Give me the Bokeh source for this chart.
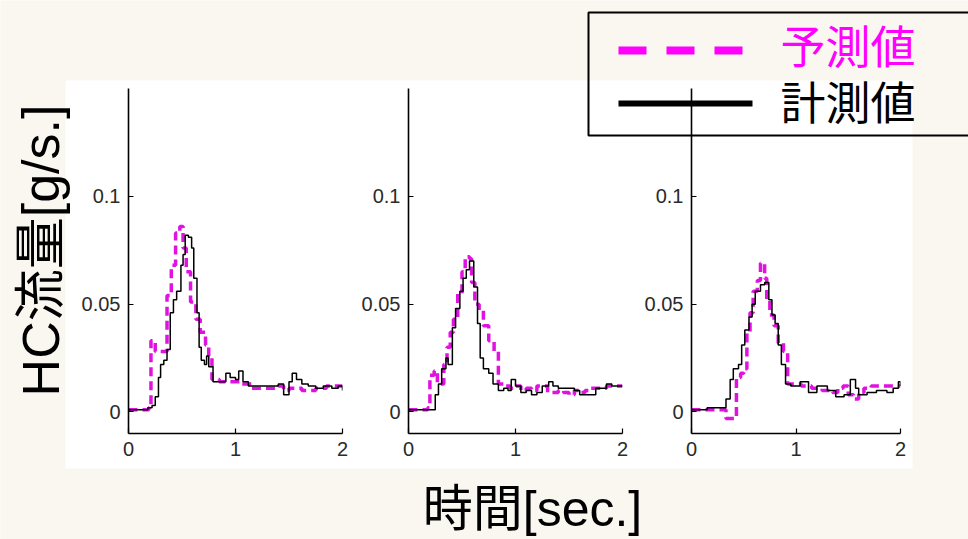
import math
from bokeh.plotting import figure
from bokeh.layouts import row, column
from bokeh.models import Range1d, FixedTicker
from bokeh.core.properties import value
from bokeh.embed import file_html
from bokeh.resources import INLINE

# ---------------- data ----------------
x_ticks = [0, 1, 2]
x_tick_labels = ["0", "1", "2"]
y_ticks = [0, 0.05, 0.1]
y_tick_labels = ["0", "0.05", "0.1"]

series_names = ["予測値", "計測値"]
y_title = "HC流量[g/s.]"
x_title = "時間[sec.]"

# panel 1
t1_meas = [0, 0.10, 0.18, 0.22, 0.25, 0.28, 0.30, 0.33, 0.36, 0.39, 0.42, 0.45, 0.49, 0.51, 0.53,
           0.56, 0.59, 0.61, 0.64, 0.66, 0.68, 0.71, 0.73, 0.75, 0.79, 0.91, 0.95, 1.00, 1.03, 1.07,
           1.12, 1.20, 1.30, 1.40, 1.45, 1.50, 1.53, 1.57, 1.62, 1.68, 1.75, 1.82, 1.90, 1.96, 2.0]
v1_meas = [0.001, 0.001, 0.002, 0.003, 0.007, 0.016, 0.022, 0.024, 0.029, 0.046, 0.052, 0.056, 0.068,
           0.073, 0.082, 0.081, 0.076, 0.062, 0.046, 0.030, 0.024, 0.022, 0.026, 0.021, 0.014, 0.018,
           0.016, 0.015, 0.019, 0.014, 0.012, 0.012, 0.012, 0.013, 0.008, 0.014, 0.018, 0.015, 0.013,
           0.012, 0.011, 0.012, 0.011, 0.012, 0.010]
t1_pred = [0, 0.19, 0.21, 0.25, 0.36, 0.40, 0.44, 0.48, 0.51, 0.54, 0.58, 0.63, 0.67, 0.72, 0.75,
           0.78, 0.85, 0.95, 1.05, 1.15, 1.30, 1.40, 1.45, 1.50, 1.62, 1.75, 1.85, 2.0]
v1_pred = [0.001, 0.002, 0.033, 0.028, 0.054, 0.068, 0.083, 0.086, 0.076, 0.065, 0.051, 0.043, 0.037,
           0.031, 0.026, 0.015, 0.014, 0.014, 0.013, 0.011, 0.011, 0.012, 0.010, 0.011, 0.010, 0.011,
           0.012, 0.012]

# panel 2
t2_meas = [0, 0.20, 0.25, 0.28, 0.31, 0.35, 0.37, 0.41, 0.44, 0.48, 0.51, 0.54, 0.57, 0.61, 0.645,
           0.67, 0.70, 0.75, 0.79, 0.84, 0.89, 0.93, 0.96, 1.00, 1.05, 1.10, 1.15, 1.20, 1.25, 1.31,
           1.35, 1.40, 1.50, 1.55, 1.60, 1.68, 1.75, 1.85, 1.90, 2.0]
v2_meas = [0.001, 0.001, 0.008, 0.013, 0.020, 0.025, 0.022, 0.039, 0.048, 0.056, 0.062, 0.066, 0.070,
           0.058, 0.041, 0.025, 0.020, 0.018, 0.013, 0.010, 0.011, 0.010, 0.015, 0.012, 0.009, 0.010,
           0.008, 0.009, 0.012, 0.014, 0.012, 0.011, 0.011, 0.010, 0.008, 0.008, 0.011, 0.013, 0.012,
           0.012]
t2_pred = [0, 0.18, 0.20, 0.24, 0.27, 0.33, 0.36, 0.39, 0.42, 0.46, 0.50, 0.53, 0.57, 0.59, 0.62,
           0.66, 0.70, 0.75, 0.80, 0.84, 0.90, 0.95, 1.00, 1.05, 1.10, 1.15, 1.20, 1.30, 1.40, 1.45,
           1.50, 1.55, 1.60, 1.65, 1.70, 1.80, 1.85, 2.0]
v2_pred = [0.001, 0.002, 0.017, 0.019, 0.013, 0.022, 0.030, 0.037, 0.043, 0.055, 0.065, 0.072, 0.071,
           0.060, 0.050, 0.047, 0.040, 0.033, 0.028, 0.013, 0.012, 0.011, 0.012, 0.010, 0.011, 0.010,
           0.012, 0.009, 0.010, 0.009, 0.008, 0.010, 0.009, 0.010, 0.011, 0.011, 0.012, 0.012]

# panel 3
t3_meas = [0, 0.15, 0.31, 0.33, 0.37, 0.40, 0.45, 0.48, 0.51, 0.55, 0.58, 0.61, 0.66, 0.70, 0.74,
           0.77, 0.80, 0.83, 0.86, 0.90, 0.95, 1.00, 1.04, 1.12, 1.20, 1.30, 1.38, 1.46, 1.52, 1.57,
           1.60, 1.68, 1.77, 1.87, 1.93, 1.98, 2.0]
v3_meas = [0.001, 0.002, 0.002, 0.006, 0.015, 0.020, 0.022, 0.031, 0.038, 0.044, 0.050, 0.056, 0.059,
           0.060, 0.052, 0.045, 0.041, 0.031, 0.022, 0.013, 0.012, 0.012, 0.014, 0.009, 0.012, 0.010,
           0.007, 0.008, 0.015, 0.011, 0.008, 0.009, 0.010, 0.009, 0.011, 0.014, 0.012]
t3_pred = [0, 0.31, 0.33, 0.43, 0.47, 0.50, 0.53, 0.56, 0.59, 0.63, 0.66, 0.70, 0.72, 0.75, 0.79,
           0.83, 0.88, 0.92, 1.00, 1.05, 1.15, 1.25, 1.35, 1.40, 1.45, 1.50, 1.55, 1.60, 1.65, 1.72,
           1.80, 1.90, 2.0]
v3_pred = [0.001, 0.001, -0.003, 0.016, 0.018, 0.020, 0.037, 0.046, 0.056, 0.061, 0.069, 0.062, 0.052,
           0.045, 0.040, 0.032, 0.028, 0.013, 0.013, 0.012, 0.011, 0.010, 0.009, 0.011, 0.012, 0.008,
           0.006, 0.009, 0.011, 0.012, 0.012, 0.012, 0.012]

# ---------------- styles ----------------
BG = "#faf6f0"
MAG = "#ff00ff"
MAG_LINE = "#e012e0"
TICK_FONT = "Liberation Sans"
TITLE_FONT = "Liberation Sans, Noto Sans CJK JP"
CJK_FONT = "Noto Sans CJK JP"
W, H = 968, 539

# ---------------- base canvas (background, titles, legend) ----------------
base = figure(width=W, height=H, x_range=Range1d(0, W), y_range=Range1d(H, 0),
              output_backend="svg", toolbar_location=None, min_border=0,
              x_axis_location=None, y_axis_location=None,
              background_fill_color=BG, border_fill_color=BG, outline_line_color=None)
base.grid.visible = False

# white figure area
base.quad(left=[65], right=[912], top=[80], bottom=[468], fill_color="white", line_color=None)

# axis titles
base.text(x=[40], y=[250], text=[y_title], angle=math.pi / 2, text_align="center",
          text_baseline="middle", text_font=value(TITLE_FONT), text_font_size="52px",
          text_color="black")
base.text(x=[532], y=[508], text=[x_title], text_align="center", text_baseline="middle",
          text_font=value(TITLE_FONT), text_font_size="50px", text_color="black")

# legend
base.quad(left=[588], right=[1000], top=[12], bottom=[135], fill_alpha=0,
          line_color="black", line_width=2)
base.line(x=[618, 745], y=[50, 50], line_color=MAG, line_width=8, line_dash="28 20")
base.line(x=[618, 752], y=[103, 103], line_color="black", line_width=6)
base.text(x=[780], y=[44], text=[series_names[0]], text_baseline="middle",
          text_font=value(CJK_FONT), text_font_size="45px", text_color=MAG)
base.text(x=[780], y=[100], text=[series_names[1]], text_baseline="middle",
          text_font=value(CJK_FONT), text_font_size="45px", text_color="black")


# ---------------- panels ----------------
def panel(t_meas, v_meas, t_pred, v_pred, width, left, right):
    p = figure(width=width, height=H, x_range=Range1d(0, 2), y_range=Range1d(-0.01, 0.15),
               min_border_left=left, min_border_right=right, min_border_top=88,
               min_border_bottom=106, output_backend="svg", toolbar_location=None,
               background_fill_alpha=0, border_fill_alpha=0, outline_line_color=None)
    p.grid.visible = False
    p.xaxis.ticker = FixedTicker(ticks=x_ticks)
    p.xaxis.major_label_overrides = dict(zip(x_ticks, x_tick_labels))
    p.yaxis.ticker = FixedTicker(ticks=y_ticks)
    p.yaxis.major_label_overrides = dict(zip(y_ticks, y_tick_labels))
    for ax in (p.xaxis[0], p.yaxis[0]):
        ax.axis_line_color = "black"
        ax.axis_line_width = 1.6
        ax.major_tick_in = 5
        ax.major_tick_out = 0
        ax.major_tick_line_color = "black"
        ax.major_tick_line_width = 1.2
        ax.minor_tick_line_color = None
        ax.major_label_text_font = TICK_FONT
        ax.major_label_text_font_size = "20px"
        ax.major_label_text_color = "#2a2a2a"
        ax.major_label_standoff = 8
    p.step(t_pred, v_pred, mode="after", line_color=MAG_LINE, line_width=3.5, line_dash="9 5")
    p.step(t_meas, v_meas, mode="after", line_color="black", line_width=1.5)
    return p


f1 = panel(t1_meas, v1_meas, t1_pred, v1_pred, 355, 128, 13)
f2 = panel(t2_meas, v2_meas, t2_pred, v2_pred, 275, 53, 8)
f3 = panel(t3_meas, v3_meas, t3_pred, v3_pred, 338, 61, 68)

panels = row(f1, f2, f3, margin=(-H, 0, 0, 0))
root = column(base, panels)

open("out.html", "w").write(file_html(root, INLINE))
